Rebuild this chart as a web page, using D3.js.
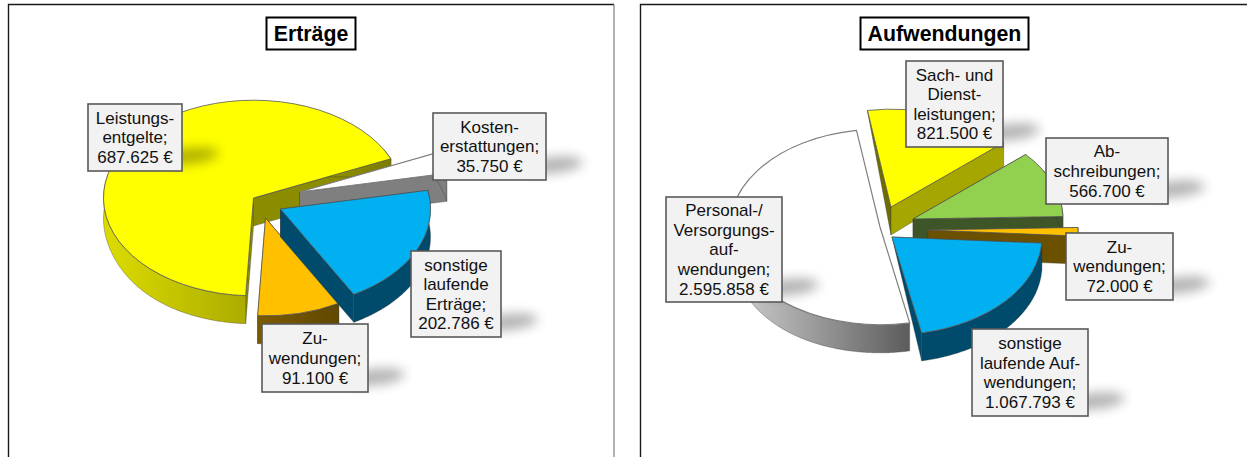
<!DOCTYPE html>
<html><head><meta charset="utf-8">
<script src="https://cdn.jsdelivr.net/npm/d3@7"></script>
<style>html,body{margin:0;padding:0;background:#fff}svg{display:block}text{font-family:"Liberation Sans",Arial,sans-serif}</style>
</head><body><div id="c"></div>
<script>
// ---- data ----
const ertraegeValues = [687625, 35750, 202786, 91100];
const ertraegeLabels = [
  ["Leistungs-","entgelte;","687.625 €"],
  ["Kosten-","erstattungen;","35.750 €"],
  ["sonstige","laufende","Erträge;","202.786 €"],
  ["Zu-","wendungen;","91.100 €"]];
const aufwendValues = [2595858, 821500, 566700, 72000, 1067793];
const aufwendLabels = [
  ["Personal-/","Versorgungs-","auf-","wendungen;","2.595.858 €"],
  ["Sach- und","Dienst-","leistungen;","821.500 €"],
  ["Ab-","schreibungen;","566.700 €"],
  ["Zu-","wendungen;","72.000 €"],
  ["sonstige","laufende Auf-","wendungen;","1.067.793 €"]];

// ---- layout and style ----
const W = 1247, H = 457, RX = 150, RATIO = 0.652, DEPTH = 28;
const charts = [
 { title:"Erträge", titleBox:[266,17,89,32], values:ertraegeValues, labels:ertraegeLabels,
   centre:[253.5,198], startDeg:183,
   offsetX:[0,46,27,12], offsetY:[0,-6,11,20],
   order:[0,1,3,2],
   face:["#ffff00","#ffffff","#00b0f0","#ffc000"],
   wallStart:["#8c8c00","#7f7f7f","#004a6b","#6b5000"],
   wallEnd:["#8c8c00","#7f7f7f","#004a6b","#6b5000"],
   sideFrom:["#dcdc00","#7f7f7f","#004a6b","#7c5b00"],
   sideTo:["#7c7c00","#7f7f7f","#004a6b","#604800"],
   flatApex:[false,false,false,false],
   boxes:[[88,104,94,67],[433,113,113,67],[411,251,90,86],[262,324,106,68]] },
 { title:"Aufwendungen", titleBox:[860,17,168,32], values:aufwendValues, labels:aufwendLabels,
   centre:[880,227], startDeg:168.6,
   offsetX:[0,11,33,48,12], offsetY:[0,-20,-8,3,10],
   order:[0,1,2,3,4],
   face:["#ffffff","#ffff00","#92d050","#ffc000","#00b0f0"],
   wallStart:["none","#6e6e00","#3e5527","#6b5000","#004a6b"],
   wallEnd:["none","#a6a600","#3e5527","#6b5000","#004a6b"],
   sideFrom:["#d2d2d2","#a6a600","#3e5527","#6b5000","#004a6b"],
   sideTo:["#5c5c5c","#a6a600","#3e5527","#6b5000","#004a6b"],
   flatApex:[false,false,false,false,true],
   boxes:[[666,197,116,105],[906,61,97,86],[1046,138,122,66],[1066,233,107,67],[972,329,116,87]] }
];

const svg = d3.select("#c").append("svg").attr("width",W).attr("height",H);
const defs = svg.append("defs");
defs.append("filter").attr("id","blur").attr("x","-60%").attr("y","-200%").attr("width","220%").attr("height","500%")
  .append("feGaussianBlur").attr("stdDeviation",6);

// panel frames
const line = d3.line();
svg.append("path").attr("d",line([[8.5,H],[8.5,4.5],[614,4.5]])).attr("fill","none").attr("stroke","#1a1a1a").attr("stroke-width",1.4);
svg.append("path").attr("d",line([[614,4.5],[614,H]])).attr("fill","none").attr("stroke","#808080").attr("stroke-width",1.2);
svg.append("path").attr("d",line([[640.5,H],[640.5,4.5],[W,4.5]])).attr("fill","none").attr("stroke","#1a1a1a").attr("stroke-width",1.4);

const rad = d => d*Math.PI/180;
const rScale = d3.scaleLinear().domain([0,1]).range([0,RX]);

function depth(theta,t){
  const f = Math.max(0,(Math.cos(theta)*t-0.6)/0.4);
  const s = Math.max(0,-Math.sin(theta))*t;
  return DEPTH*(1-f)*(1-0.25*Math.pow(s,6));
}

charts.forEach((ch,ci)=>{
  const g = svg.append("g");
  const pie = d3.pie().sort(null).startAngle(rad(ch.startDeg)).endAngle(rad(ch.startDeg+360));
  const arcs = pie(ch.values);
  const arcGen = d3.arc().innerRadius(0).outerRadius(RX);
  ch.order.forEach(i=>{
    const a = arcs[i];
    const ox = ch.centre[0]+ch.offsetX[i], oy = ch.centre[1]+ch.offsetY[i];
    const px = (th,t)=> ox + rScale(t)*Math.sin(th);
    const py = (th,t)=> oy - rScale(t)*RATIO*Math.cos(th);
    const s = g.append("g");
    // radial walls
    [[a.startAngle,ch.wallStart[i]],[a.endAngle,ch.wallEnd[i]]].forEach(([th,col])=>{
      if(col==="none") return;
      const apexD = ch.flatApex[i] ? 0 : depth(th,0);
      s.append("path").attr("d",line([[px(th,0),py(th,0)],[px(th,1),py(th,1)],[px(th,1),py(th,1)+depth(th,1)],[px(th,0),py(th,0)+apexD]])+"Z")
        .attr("fill",col).attr("stroke","#333").attr("stroke-width",0.5).attr("stroke-opacity",0.7);
    });
    // outer rim, front part only
    const angles = d3.range(a.startAngle,a.endAngle,0.01).concat([a.endAngle]).filter(th=>Math.cos(th)<0.5);
    if(angles.length>1){
      const xs = angles.map(th=>px(th,1));
      const id = "rim"+ci+"_"+i;
      const lg = defs.append("linearGradient").attr("id",id).attr("gradientUnits","userSpaceOnUse")
        .attr("x1",d3.min(xs)).attr("x2",d3.max(xs)).attr("y1",0).attr("y2",0);
      lg.append("stop").attr("offset",0).attr("stop-color",ch.sideFrom[i]);
      lg.append("stop").attr("offset",1).attr("stop-color",ch.sideTo[i]);
      const area = d3.area().x(th=>px(th,1)).y0(th=>py(th,1)).y1(th=>py(th,1)+depth(th,1));
      s.append("path").attr("d",area(angles)).attr("fill",`url(#${id})`).attr("stroke","#333").attr("stroke-width",0.5).attr("stroke-opacity",0.7);
    }
    // top face
    s.append("path").attr("d",arcGen(a)).attr("transform",`translate(${ox},${oy}) scale(1,${RATIO})`)
      .attr("fill",ch.face[i]).attr("stroke",ch.face[i]==="#ffffff"?"#808080":"#555").attr("stroke-width",ch.face[i]==="#ffffff"?1.2:0.8)
      .attr("vector-effect","non-scaling-stroke");
  });
  // title
  const tb = ch.titleBox;
  svg.append("rect").attr("x",tb[0]+.5).attr("y",tb[1]+.5).attr("width",tb[2]).attr("height",tb[3]).attr("fill","#fff").attr("stroke","#000").attr("stroke-width",2);
  svg.append("text").attr("x",tb[0]+tb[2]/2+.5).attr("y",tb[1]+tb[3]/2+.5).attr("dy",".36em").attr("text-anchor","middle")
    .attr("font-size",21.3).attr("font-weight","bold").attr("fill","#000").text(ch.title);
  // data labels
  ch.labels.forEach((lines,i)=>{
    const b = ch.boxes[i], lab = svg.append("g");
    const cx = b[0]+b[2]+7, cy = b[1]+b[3]-15;
    lab.append("ellipse").attr("cx",cx).attr("cy",cy).attr("rx",30).attr("ry",8)
      .attr("transform",`rotate(-6 ${cx} ${cy})`).attr("fill","#000").attr("opacity",0.3).attr("filter","url(#blur)");
    lab.append("rect").attr("x",b[0]).attr("y",b[1]).attr("width",b[2]).attr("height",b[3])
      .attr("fill","#f2f2f2").attr("stroke","#595959").attr("stroke-width",1.6);
    const pitch = 19.6, y0 = b[1]+b[3]/2-(lines.length-1)*pitch/2;
    lines.forEach((t,k)=>lab.append("text").attr("x",b[0]+b[2]/2).attr("y",y0+k*pitch).attr("dy",".35em")
      .attr("text-anchor","middle").attr("font-size",17).attr("fill","#111").text(t));
  });
});
</script></body></html>
